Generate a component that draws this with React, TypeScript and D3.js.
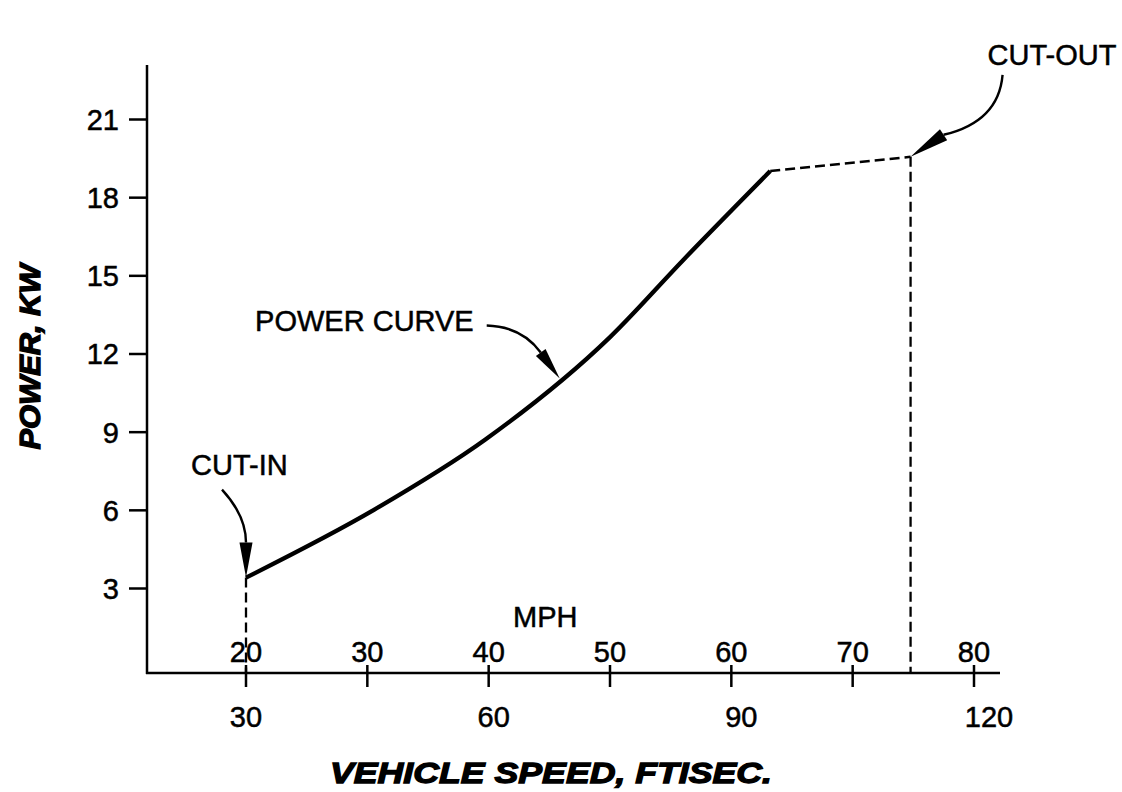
import React, { useEffect, useRef } from "react";
import * as d3 from "d3";

// power curve (ft/sec -> kW)
const speedFtSec = [30, 45.5, 59, 74, 83, 93.5];
const powerKw = [3.4, 6.0, 8.7, 12.6, 15.6, 19.0];
// dashed run from the knee to cut-out
const cutOutSpeed = [93.5, 110.5];
const cutOutPower = [19.0, 19.55];

const powerTicks = [3, 6, 9, 12, 15, 18, 21];
const ftSecTicks = [30, 60, 90, 120];
const mphTicks = [20, 30, 40, 50, 60, 70, 80];

const FONT = "'Liberation Sans', Arial, Helvetica, sans-serif";

export default function App() {
  const svgRef = useRef<SVGSVGElement>(null);

  useEffect(() => {
    const width = 1122, height = 792;
    const axisLeft = 147, axisBottom = 673, axisRight = 1000, axisTop = 65;
    const svg = d3.select(svgRef.current);
    svg.selectAll("*").remove();
    svg.attr("width", width).attr("height", height);

    const x = d3.scaleLinear().domain([30, 120]).range([246, 989]);
    const xMph = d3.scaleLinear().domain([20, 80]).range([246, 974]);
    const y = d3.scaleLinear().domain([3, 21]).range([588, 119]);
    // piecewise lookup along the curve, used to park the arrow on it
    const along = d3.scaleLinear().domain(speedFtSec).range(powerKw);

    // scanned look: plain Arial, slightly thickened
    const text = (sel: any, size: number) =>
      sel.attr("font-family", FONT).attr("font-size", size).attr("fill", "#000")
        .attr("stroke", "#000").attr("stroke-width", 0.5);

    // axis lines
    svg.append("line")
      .attr("x1", axisLeft).attr("x2", axisLeft)
      .attr("y1", axisTop).attr("y2", axisBottom + 1)
      .attr("stroke", "#000").attr("stroke-width", 2.5);
    svg.append("line")
      .attr("x1", axisLeft - 1).attr("x2", axisRight)
      .attr("y1", axisBottom).attr("y2", axisBottom)
      .attr("stroke", "#000").attr("stroke-width", 2.5);

    // y ticks
    const yAxis = svg.append("g")
      .attr("transform", `translate(${axisLeft},0)`)
      .call(d3.axisLeft(y).tickValues(powerTicks).tickSize(18).tickPadding(10).tickFormat(d3.format("d")));
    yAxis.select(".domain").remove();
    yAxis.selectAll(".tick line").attr("stroke", "#000").attr("stroke-width", 2.5);
    yAxis.selectAll(".tick text").call(text, 29).attr("dy", "0.36em");

    // MPH ticks cross the axis, labels sit above it
    svg.append("g").selectAll("line")
      .data(mphTicks)
      .join("line")
      .attr("x1", d => xMph(d)).attr("x2", d => xMph(d))
      .attr("y1", axisBottom - 8).attr("y2", axisBottom + 14)
      .attr("stroke", "#000").attr("stroke-width", 2.5);
    svg.append("g").selectAll("text")
      .data(mphTicks)
      .join("text")
      .attr("x", d => xMph(d))
      .attr("y", axisBottom - 11)
      .attr("text-anchor", "middle")
      .text(d => d)
      .call(text, 29);
    svg.append("text")
      .attr("x", 513).attr("y", axisBottom - 46)
      .text("MPH")
      .call(text, 29);

    // ft/sec labels below
    svg.append("g").selectAll("text")
      .data(ftSecTicks)
      .join("text")
      .attr("x", d => x(d))
      .attr("y", axisBottom + 54)
      .attr("text-anchor", "middle")
      .text(d => d)
      .call(text, 29);

    // axis titles
    svg.append("text")
      .attr("transform", `translate(40,357) rotate(-90)`)
      .attr("text-anchor", "middle")
      .attr("font-style", "italic").attr("font-weight", 900)
      .attr("stroke", "#000").attr("stroke-width", 1.2)
      .attr("textLength", 185).attr("lengthAdjust", "spacingAndGlyphs")
      .text("POWER, KW")
      .call(text, 29)
      .attr("stroke-width", 1.3);
    svg.append("text")
      .attr("x", 551).attr("y", 783)
      .attr("text-anchor", "middle")
      .attr("font-style", "italic").attr("font-weight", 900)
      .attr("textLength", 442).attr("lengthAdjust", "spacingAndGlyphs")
      .text("VEHICLE SPEED, FTISEC.")
      .call(text, 30)
      .attr("stroke-width", 1.3);

    // dashed guides
    const dashed = (x1: number, y1: number, x2: number, y2: number) =>
      svg.append("line")
        .attr("x1", x1).attr("y1", y1).attr("x2", x2).attr("y2", y2)
        .attr("stroke", "#000").attr("stroke-width", 2.3)
        .attr("stroke-dasharray", "10,5");
    dashed(x(speedFtSec[0]), y(powerKw[0]), x(speedFtSec[0]), axisBottom);
    dashed(x(cutOutSpeed[1]), y(cutOutPower[1]), x(cutOutSpeed[1]), axisBottom);

    const line = d3.line<[number, number]>()
      .x(d => x(d[0]))
      .y(d => y(d[1]));

    svg.append("path")
      .attr("d", line(cutOutSpeed.map((s, i) => [s, cutOutPower[i]])))
      .attr("fill", "none")
      .attr("stroke", "#000").attr("stroke-width", 2.5)
      .attr("stroke-dasharray", "10,5");

    // the power curve
    svg.append("path")
      .attr("d", line.curve(d3.curveMonotoneX)(speedFtSec.map((s, i) => [s, powerKw[i]])))
      .attr("fill", "none")
      .attr("stroke", "#000").attr("stroke-width", 4.3)
      .attr("stroke-linejoin", "round");

    // callout arrows: curved shaft + filled head ending at tip
    const arrow = (tx: number, ty: number, shaft: number[], base: [number, number], half: number) => {
      const [bx, by] = [tx + base[0], ty + base[1]];
      const len = Math.hypot(tx - bx, ty - by);
      const px = -(ty - by) / len * half, py = (tx - bx) / len * half;
      const [sx, sy, cx, cy] = shaft;
      svg.append("path")
        .attr("d", `M${tx + sx},${ty + sy} Q${tx + cx},${ty + cy} ${bx},${by}`)
        .attr("fill", "none").attr("stroke", "#000").attr("stroke-width", 2.4);
      svg.append("path")
        .attr("d", `M${tx},${ty} L${bx + px},${by + py} L${bx - px},${by - py} Z`)
        .attr("fill", "#000");
    };

    // CUT-IN
    const inX = x(speedFtSec[0]), inY = y(powerKw[0]);
    arrow(inX, inY, [-24, -88, 0, -62], [0, -35], 6.5);
    svg.append("text").attr("x", inX - 55).attr("y", inY - 103).text("CUT-IN").call(text, 29);

    // POWER CURVE
    const pcX = x(68), pcY = y(along(68));
    arrow(pcX, pcY, [-73, -53, -38, -52], [-19, -26], 6);
    svg.append("text").attr("x", pcX - 86).attr("y", pcY - 48)
      .attr("text-anchor", "end").text("POWER CURVE").call(text, 29);

    // CUT-OUT
    const outX = x(cutOutSpeed[1]), outY = y(cutOutPower[1]);
    arrow(outX, outY, [92, -82, 88, -35], [33, -22], 6.5);
    svg.append("text").attr("x", outX + 77).attr("y", outY - 92).text("CUT-OUT").call(text, 29);
  }, []);

  return (
    <svg ref={svgRef} style={{ position: "absolute", left: 0, top: 0, background: "#fff" }}></svg>
  );
}
